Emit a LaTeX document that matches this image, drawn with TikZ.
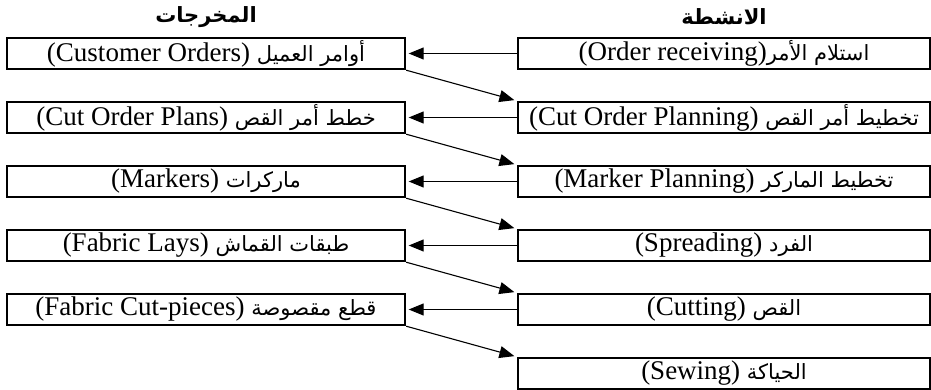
\documentclass[tikz,border=0pt]{standalone}
\usepackage{fontspec}
\setmainfont{Liberation Serif}
\newfontfamily\arfont[Script=Arabic]{DejaVu Sans}
\TeXXeTstate=1
\usetikzlibrary{arrows.meta}
\newcommand{\ar}[1]{{\arfont\fontsize{21}{25}\selectfont\beginR #1\endR}}
\begin{document}
\begin{tikzpicture}[x=1pt,y=-1pt,
  boxL/.style={draw=black,line width=2.4pt,minimum width=398pt,minimum height=31pt,inner sep=0pt,
    font=\fontsize{27}{30}\selectfont},
  boxR/.style={boxL,minimum width=412pt},
  head/.style={font=\arfont\bfseries\fontsize{21}{25}\selectfont,inner sep=0pt},
  arr/.style={line width=1.1pt,-{Triangle[length=15pt,width=12pt]},shorten >=2.5pt}]
\useasboundingbox (0,0) rectangle (931,390);
\node[head] (hL) at (206,17) {\beginR المخرجات\endR};
\node[head] (hR) at (724,17) {\beginR الانشطة\endR};
\node[boxL] (L1) at (206,53.5) {(Customer Orders) \ar{أوامر العميل}};
\node[boxL] (L2) at (206,117.5) {(Cut Order Plans) \ar{خطط أمر القص}};
\node[boxL] (L3) at (206,181.5) {(Markers) \ar{ماركرات}};
\node[boxL] (L4) at (206,245.5) {(Fabric Lays) \ar{طبقات القماش}};
\node[boxL] (L5) at (206,309.5) {(Fabric Cut-pieces) \ar{قطع مقصوصة}};
\node[boxR] (R1) at (724,53.5) {(Order receiving)\ar{استلام الأمر}};
\node[boxR] (R2) at (724,117.5) {(Cut Order Planning) \ar{تخطيط أمر القص}};
\node[boxR] (R3) at (724,181.5) {(Marker Planning) \ar{تخطيط الماركر}};
\node[boxR] (R4) at (724,245.5) {(Spreading) \ar{الفرد}};
\node[boxR] (R5) at (724,309.5) {(Cutting) \ar{القص}};
\node[boxR] (R6) at (724,373.5) {(Sewing) \ar{الحياكة}};
\foreach \i in {1,...,5}{
  \draw[arr] (R\i.west) -- (L\i.east);
}
\foreach \i/\j in {1/2,2/3,3/4,4/5,5/6}{
  \draw[arr] (L\i.south east) -- (R\j.north west);
}
\end{tikzpicture}
\end{document}
